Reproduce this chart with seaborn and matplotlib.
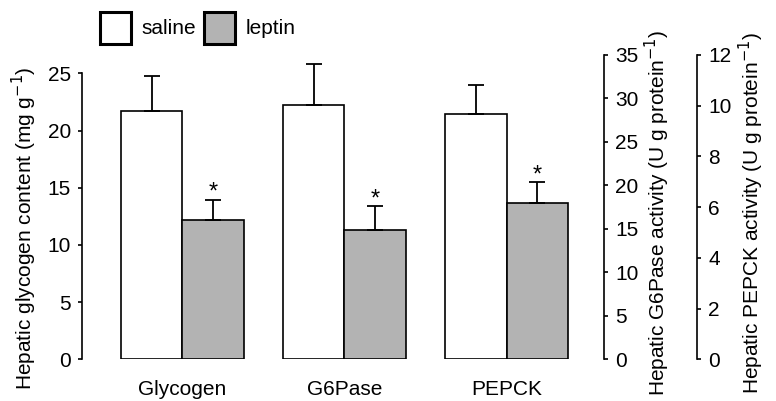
import matplotlib
matplotlib.use("Agg")
import matplotlib.pyplot as plt
from matplotlib.patches import Patch
import seaborn as sns
import pandas as pd
import numpy as np

sns.set_style("white")
plt.rcParams['font.family'] = ['Liberation Sans', 'DejaVu Sans']
for k in ["text.color", "axes.labelcolor", "xtick.color", "ytick.color"]:
    plt.rcParams[k] = "black"

categories = ["Glycogen", "G6Pase", "PEPCK"]
treatments = ["saline", "leptin"]
saline_vals = [21.7, 29.2, 9.68]
leptin_vals = [12.15, 14.9, 6.18]
saline_err = [3.1, 4.75, 1.15]
leptin_err = [1.8, 2.7, 0.8]
leptin_signif = [True, True, True]

ylabels = ["Hepatic glycogen content (mg g$^{-1}$)",
           "Hepatic G6Pase activity (U g protein$^{-1}$)",
           "Hepatic PEPCK activity (U g protein$^{-1}$)"]
ylims = [25 * 304.3 / 286.0, 35, 12]
ymaxes = [25, 35, 12]
ysteps = [5, 5, 2]

palette = {"saline": "white", "leptin": "#b3b3b3"}
FS = 15

fig = plt.figure(figsize=(7.76, 4.01), dpi=100)
ax = fig.add_axes([82 / 776, 1 - 359.3 / 401, (604 - 82) / 776, (359.3 - 55) / 401])
ax2 = ax.twinx()
ax3 = ax.twinx()
axes = [ax, ax2, ax3]

for i, (a, cat) in enumerate(zip(axes, categories)):
    df = pd.DataFrame({
        "category": [cat, cat],
        "treatment": treatments,
        "value": [saline_vals[i], leptin_vals[i]],
    })
    sns.barplot(data=df, x="category", y="value", hue="treatment",
                order=categories, hue_order=treatments, palette=palette,
                width=0.758, errorbar=None, edgecolor="black", linewidth=1.2,
                legend=False, ax=a)
    errs = [saline_err[i], leptin_err[i]]
    bars = [p for p in a.patches]
    for j, p in enumerate(bars):
        xc = p.get_x() + p.get_width() / 2
        h = p.get_height()
        a.errorbar([xc], [h], yerr=[[0], [errs[j]]], fmt="none", ecolor="black",
                   elinewidth=1.3, capsize=6, capthick=1.3, zorder=3)
        if j == 1 and leptin_signif[i]:
            a.annotate("*", (xc, h + errs[j]), xytext=(0, -3), textcoords="offset points",
                       ha="center", va="bottom", fontsize=17, color="black")
    a.set_ylim(0, ylims[i])
    a.set_yticks(np.arange(0, ymaxes[i] + 0.001, ysteps[i]))
    a.set_ylabel(ylabels[i], fontsize=FS)
    a.set_xlabel("")

for a in axes:
    a.set_xlim(-0.618, 2.60)
    for s in ["top", "bottom"]:
        a.spines[s].set_visible(False)

ax.spines["right"].set_visible(False)
ax.spines["left"].set_bounds(0, 25)
ax.spines["left"].set_linewidth(1.2)
ax.spines["left"].set_color("black")
ax.yaxis.set_ticks_position("left")
ax.yaxis.set_label_position("left")
ax.tick_params(axis="y", direction="out", length=3, width=1.2, labelsize=FS, pad=5, left=True)

for a, pos in [(ax2, 1.0), (ax3, 1 + 93 / 522)]:
    a.spines["left"].set_visible(False)
    a.spines["right"].set_position(("axes", pos))
    a.spines["right"].set_linewidth(1.2)
    a.spines["right"].set_color("black")
    a.yaxis.set_ticks_position("right")
    a.yaxis.set_label_position("right")
    a.tick_params(axis="y", direction="out", length=3, width=1.2, labelsize=FS, pad=5, right=True)

ax.set_xticks(range(len(categories)))
ax.set_xticklabels(categories, fontsize=FS)
ax.tick_params(axis="x", length=0, pad=15, labelbottom=True)
ax.set_xlim(-0.618, 2.60)

ax.yaxis.set_label_coords((39 - 82) / 522, (359.3 - 228) / 304.3)
ax2.yaxis.set_label_coords((643 - 82) / 522, (359.3 - 213) / 304.3)
ax3.yaxis.set_label_coords((737 - 82) / 522, (359.3 - 213) / 304.3)

handles = [Patch(facecolor=palette[t], edgecolor="black", linewidth=2.2, label=t) for t in treatments]
fig.legend(handles=handles, loc="upper left", bbox_to_anchor=(100 / 776, 1 - 11.7 / 401),
           ncol=2, frameon=False, fontsize=FS, handlelength=1.49, handleheight=2.0,
           handletextpad=0.5, columnspacing=0.38, borderaxespad=0, borderpad=0)

fig.savefig("out.png", dpi=100)
